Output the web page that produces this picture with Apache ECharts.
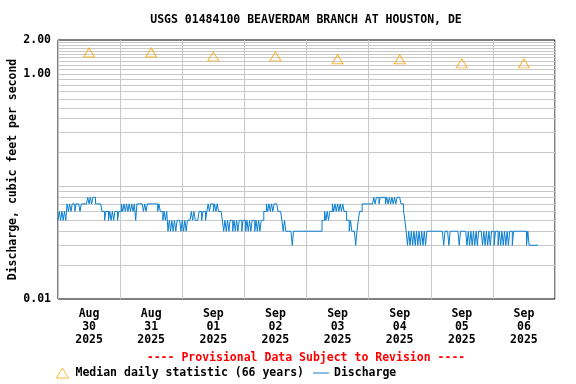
<!DOCTYPE html>
<html><head><meta charset="utf-8">
<script src="https://cdn.jsdelivr.net/npm/echarts@6/dist/echarts.min.js"></script>
<style>html,body{margin:0;padding:0;background:#fff}#c{width:576px;height:384px}</style>
</head><body><div id="c"></div>
<script>
const titleText = 'USGS 01484100 BEAVERDAM BRANCH AT HOUSTON, DE';
const noteText = '---- Provisional Data Subject to Revision ----';
const yAxisTitle = 'Discharge, cubic feet per second';
const medianName = 'Median daily statistic (66 years)';
const dischargeName = 'Discharge';
const dayLabels = ['Aug\n30\n2025','Aug\n31\n2025','Sep\n01\n2025','Sep\n02\n2025','Sep\n03\n2025','Sep\n04\n2025','Sep\n05\n2025','Sep\n06\n2025'];
const yLabelValues = [0.01, 1, 2];
const gridValues = [0.02,0.03,0.04,0.05,0.06,0.07,0.08,0.09,0.1,0.2,0.3,0.4,0.5,0.6,0.7,0.8,0.9,1.0,1.1,1.2,1.3,1.4,1.5,1.6,1.7,1.8,1.9];
const medianValues = [1.55,1.55,1.43,1.43,1.35,1.35,1.24,1.24];
// discharge, cfs, half-hour readings starting at midnight of each day
const aug30 = [.05,.06,.05,.06,.05,.06,.05,.07,.06,.07,.06,.07,.07,.06,.07,.07,.07,.06,.07,.07,.07,.07,.07,.08,.07,.08,.07,.08,.08,.07,.07,.07,.07,.07,.06,.06,.05,.06,.06,.05,.06,.05,.06,.05,.06,.06,.05,.06];
const aug31 = [.06,.07,.06,.07,.06,.07,.06,.07,.06,.07,.06,.07,.05,.07,.07,.07,.07,.07,.06,.07,.06,.07,.07,.07,.07,.07,.07,.07,.07,.06,.07,.06,.06,.05,.06,.05,.06,.04,.05,.04,.05,.04,.05,.04,.05,.05,.05,.04];
const sep01 = [.05,.04,.05,.04,.05,.05,.05,.06,.05,.06,.05,.05,.05,.06,.06,.05,.06,.06,.05,.06,.07,.06,.07,.07,.06,.07,.06,.07,.06,.06,.06,.05,.04,.05,.04,.05,.04,.05,.05,.04,.05,.04,.05,.04,.05,.05,.04,.05];
const sep02 = [.05,.04,.05,.04,.05,.04,.05,.05,.04,.05,.04,.05,.04,.05,.05,.06,.06,.07,.06,.07,.06,.07,.06,.07,.07,.07,.06,.06,.06,.05,.04,.05,.04,.04,.04,.04,.04,.03,.04,.04,.04,.04,.04,.04,.04,.04,.04,.04];
const sep03 = [.04,.04,.04,.04,.04,.04,.04,.04,.04,.04,.04,.04,.05,.05,.06,.05,.06,.05,.06,.06,.07,.06,.07,.06,.07,.06,.07,.06,.07,.06,.06,.05,.05,.04,.05,.04,.04,.04,.03,.04,.05,.06,.06,.07,.07,.07,.07,.07];
const sep04 = [.07,.07,.07,.07,.08,.07,.08,.08,.07,.08,.08,.08,.08,.07,.08,.07,.08,.07,.08,.07,.08,.07,.08,.08,.08,.07,.07,.06,.05,.04,.03,.04,.03,.04,.03,.04,.03,.04,.03,.04,.03,.04,.03,.04,.03,.04,.04,.04];
const sep05 = [.04,.04,.04,.04,.04,.04,.04,.04,.04,.04,.03,.04,.04,.04,.03,.04,.04,.04,.04,.04,.04,.04,.03,.04,.04,.04,.04,.04,.03,.04,.03,.04,.03,.04,.03,.04,.03,.04,.04,.04,.03,.04,.03,.04,.03,.04,.03,.04];
const sep06 = [.04,.03,.04,.04,.03,.04,.03,.04,.03,.04,.03,.04,.03,.04,.04,.03,.04,.04,.04,.04,.04,.04,.04,.04,.04,.04,.03,.04,.03,.03,.03,.03,.03,.03,.03,.03];
const days = [aug30, aug31, sep01, sep02, sep03, sep04, sep05, sep06];
const stepHours = 0.5;

const discharge = [];
days.forEach((arr, d) => arr.forEach((v, i) => discharge.push([d * 24 + i * stepHours, v])));
const median = medianValues.map((v, i) => [i * 24 + 12, v]);

const FONT = 'DejaVu Sans Mono';
const txt = { fontFamily: FONT, fontWeight: 'bold', fontSize: 11.5, color: '#000' };
const BLUE = '#0a7fd2';

const chart = echarts.init(document.getElementById('c'), null, { renderer: 'canvas' });
chart.setOption({
  animation: false,
  backgroundColor: '#fff',
  grid: { left: 58, right: 21, top: 40, bottom: 85, show: true, borderColor: '#000', borderWidth: 1,
    backgroundColor: 'transparent', containLabel: false, outerBoundsMode: 'none' },
  xAxis: [
    { type: 'value', min: 0, max: 192, interval: 24, position: 'bottom',
      axisLabel: { show: false }, axisTick: { show: false }, axisLine: { show: false },
      splitLine: { show: true, lineStyle: { color: '#c8c8c8', width: 1 } } },
    { type: 'category', data: dayLabels, position: 'bottom', offset: 0, boundaryGap: true,
      axisLine: { show: false }, axisTick: { show: false }, splitLine: { show: false },
      axisLabel: Object.assign({ margin: 9, lineHeight: 12.7, interval: 0 }, txt) }
  ],
  yAxis: {
    type: 'log', logBase: 10, min: 0.01, max: 2,
    axisLine: { show: false }, axisTick: { show: false }, splitLine: { show: false },
    axisLabel: Object.assign({ margin: 7, showMinLabel: true, showMaxLabel: true,
      formatter: function (v) {
        for (const t of yLabelValues) { if (Math.abs(v - t) < t * 1e-6) return t.toFixed(2); }
        return '';
      } }, txt),
    name: yAxisTitle, nameLocation: 'middle', nameGap: 39, nameRotate: 90, nameMoveOverlap: false,
    nameTextStyle: Object.assign({}, txt)
  },
  legend: {
    left: 51, top: 362, itemGap: 9, itemWidth: 16, itemHeight: 10, selectedMode: false,
    textStyle: Object.assign({}, txt),
    data: [
      { name: medianName, icon: 'path://M6,0L12,10L0,10Z', itemStyle: { color: 'rgba(0,0,0,0)', borderColor: '#FFA500', borderWidth: 1 } },
      { name: dischargeName, icon: 'path://M0,0H16V1H0Z', itemStyle: { color: BLUE, borderWidth: 0 } }
    ]
  },
  graphic: [
    { type: 'text', x: 306, y: 20, style: { text: titleText, textAlign: 'center', textVerticalAlign: 'middle', font: 'bold 11.5px "DejaVu Sans Mono"', fill: '#000' } },
    { type: 'text', x: 306, y: 358, style: { text: noteText, textAlign: 'center', textVerticalAlign: 'middle', font: 'bold 11.5px "DejaVu Sans Mono"', fill: '#FF0000' } }
  ],
  series: [
    { type: 'line', name: 'grid', data: [], silent: true, xAxisIndex: 0,
      markLine: { silent: true, symbol: 'none', z: 1, label: { show: false }, animation: false,
        lineStyle: { color: '#c8c8c8', width: 1, type: 'solid' },
        emphasis: { disabled: true },
        data: gridValues.map(v => ({ yAxis: v })) } },
    { type: 'line', name: dischargeName, xAxisIndex: 0, step: 'end', data: discharge,
      showSymbol: false, symbol: 'none', z: 10,
      lineStyle: { color: BLUE, width: 1 }, itemStyle: { color: BLUE } },
    { type: 'scatter', name: medianName, xAxisIndex: 0, data: median, symbol: 'triangle', symbolSize: [11, 9], z: 11,
      itemStyle: { color: 'rgba(0,0,0,0)', borderColor: '#FFA500', borderWidth: 1 } }
  ]
});
</script></body></html>
